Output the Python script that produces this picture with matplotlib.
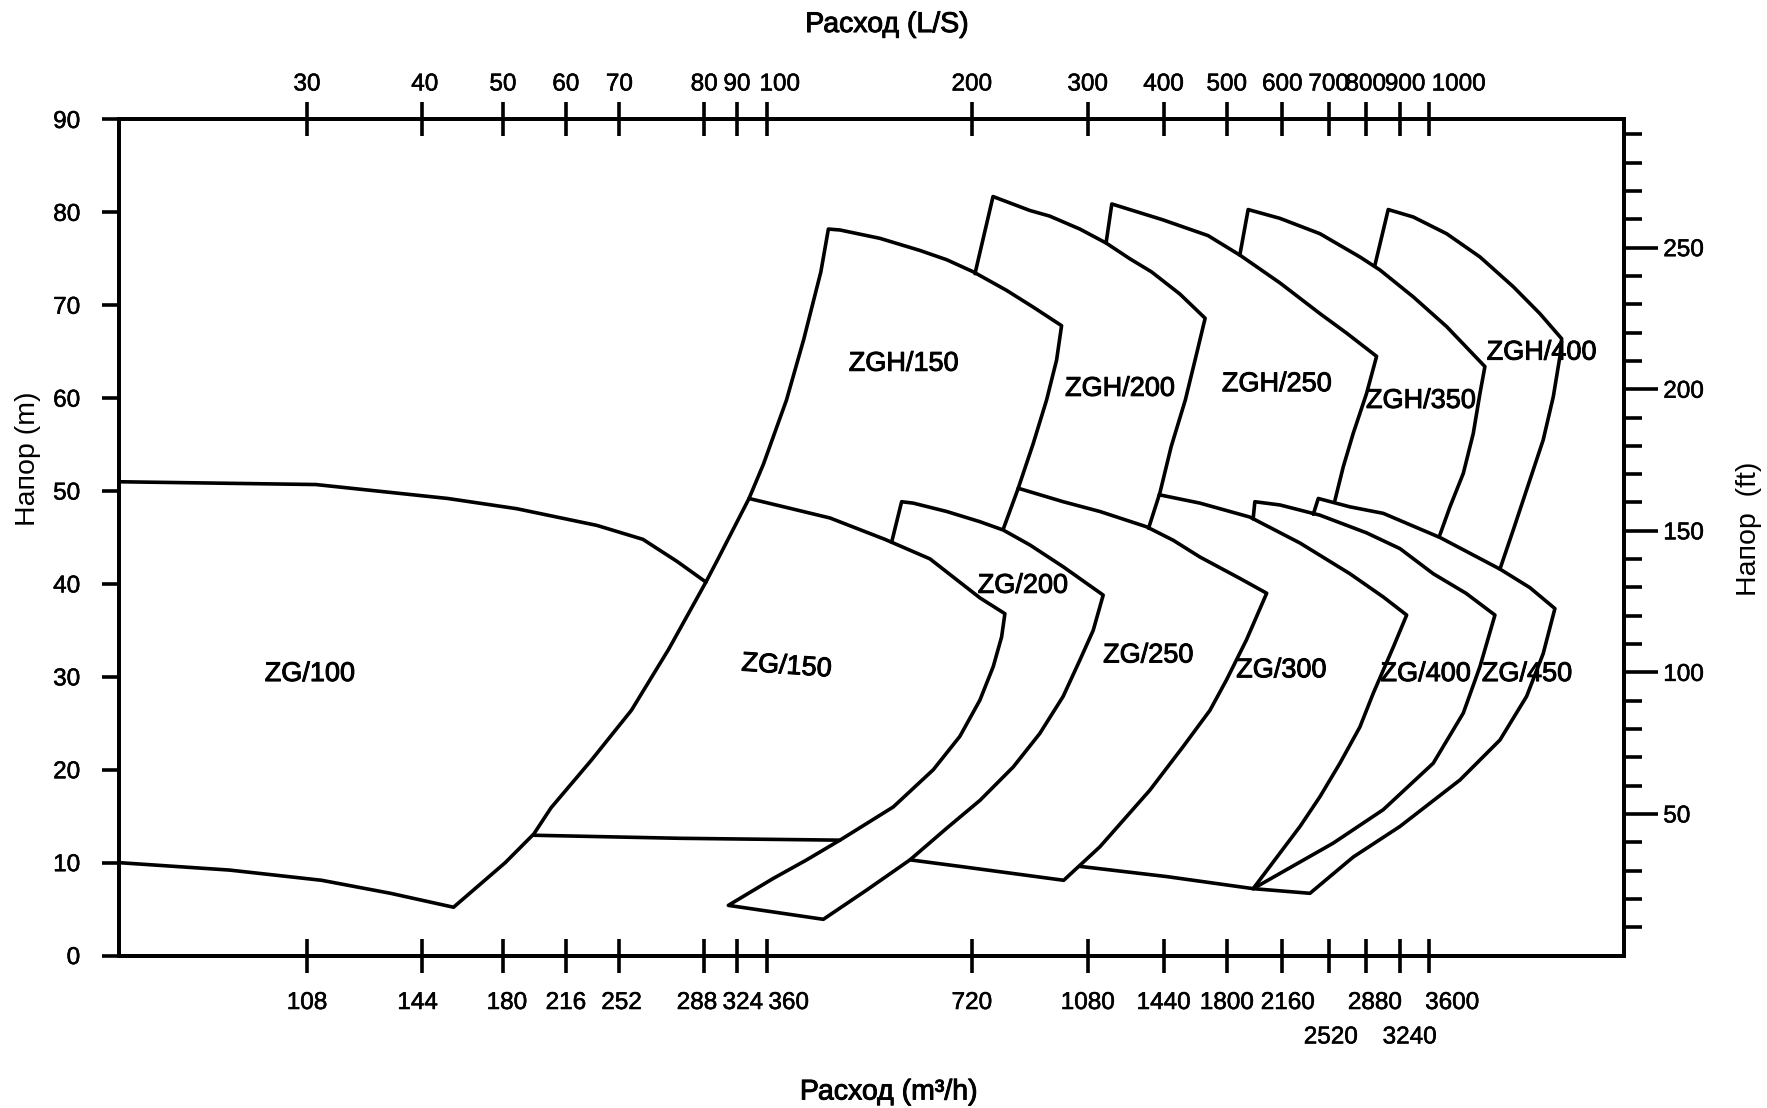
import numpy as np
import matplotlib
matplotlib.use("Agg")
import matplotlib.pyplot as plt
import matplotlib.patheffects as pe
from matplotlib.ticker import NullLocator
from matplotlib.transforms import ScaledTranslation

plt.rcParams['font.family'] = ['Liberation Sans', 'DejaVu Sans']

# Printed flow scale of the original sheet (log paper, unevenly drawn)
SCALE_Q = [67.5, 108, 144, 180, 216, 252, 288, 324, 360, 720, 1080, 1440,
           1800, 2160, 2520, 2880, 3240, 3600, 7300]
SCALE_FRAC = [0.0, 0.1251, 0.2017, 0.2553, 0.2971, 0.3327, 0.3890, 0.4108,
              0.4306, 0.5669, 0.6439, 0.6943, 0.7363, 0.7732, 0.8040, 0.8286,
              0.8516, 0.8704, 1.0]

# Axis ticks
flow_m3h_ticks = [108, 144, 180, 216, 252, 288, 324, 360, 720, 1080, 1440,
                  1800, 2160, 2520, 2880, 3240, 3600]
flow_ls_ticks = [30, 40, 50, 60, 70, 80, 90, 100, 200, 300, 400, 500, 600,
                 700, 800, 900, 1000]
head_m_ticks = [0, 10, 20, 30, 40, 50, 60, 70, 80, 90]
head_ft_major = [50, 100, 150, 200, 250]
head_ft_minor = [v for v in range(10, 300, 10) if v % 50]

# Outlines of the pump ranges: flow (m3/h) and head (m)
zg100_q = [67.5, 110.4, 154.5, 187.3, 236.2, 261.5, 276.1, 289.8, 272.4,
           256.8, 232.3, 206.9, 196.9, 181.2, 157.0, 133.0, 112.0, 89.0, 67.5]
zg100_h = [51.0, 50.7, 49.2, 48.1, 46.3, 44.8, 42.4, 40.2, 33.0,
           26.4, 21.0, 15.9, 13.1, 10.0, 5.2, 6.7, 8.1, 9.2, 10.0]

zg150_q = [196.5, 277.2, 461.0, 552.1, 631.9, 691.4, 740.5, 775.8, 798.9, 808.1,
           740.5, 624.8, 536.6, 445.7, 376.4, 338.1]
zg150_h = [12.95, 12.62, 12.42, 16.0, 20.0, 23.6, 27.5, 31.1, 34.3, 36.8,
           38.5, 42.7, 44.8, 47.1, 48.4, 49.2]

zgh150_q = [289.8, 302.2, 338.1, 355.8, 384.8, 407.8, 432.2, 443.3, 461.0, 527.7,
            603.9, 661.1, 723.3, 812.9, 892.2, 985.4, 968.3, 935.0, 892.2, 846.7,
            803.5]
zgh150_h = [40.2, 42.6, 49.2, 52.9, 59.8, 66.3, 73.6, 78.2, 78.1, 77.2,
            75.9, 74.9, 73.6, 71.6, 69.8, 67.8, 64.1, 59.8, 55.1, 50.3,
            45.9]

zg200_q = [461.0, 412.0, 368.0, 314.1, 435.8, 504.6, 584.1, 661.1, 740.5, 832.1,
           913.0, 990.9, 1050.5, 1102.4, 1145.0, 990.9, 881.9, 803.5, 740.5, 661.1,
           590.4, 567.8, 549.0]
zg200_h = [12.42, 10.3, 8.3, 5.4, 3.9, 7.05, 10.3, 13.7, 16.7, 20.3,
           23.9, 27.9, 31.8, 35.0, 38.8, 41.85, 44.2, 45.8, 46.7, 47.8,
           48.7, 48.85, 44.5]

zgh200_q = [727.8, 775.2, 881.9, 944.9, 1050.5, 1157.6, 1267.0, 1374.9, 1525.5,
            1667.2, 1618.0, 1554.6, 1479.1, 1419.7, 1360.1]
zgh200_h = [73.4, 81.7, 80.2, 79.6, 78.2, 76.7, 75.0, 73.6, 71.2,
            68.6, 64.8, 59.8, 54.8, 49.8, 46.0]

zg250_q = [846.7, 990.9, 1130.6, 1349.9, 1489.7, 1636.8, 1878.4, 2051.5, 1920.3,
           1798.7, 1696.0, 1543.0, 1366.7, 1130.6, 992.7, 699.2, 584.1]
zg250_h = [50.3, 48.85, 47.8, 46.15, 44.7, 42.9, 40.6, 39.0, 34.0,
           29.7, 26.4, 22.5, 17.8, 11.7, 8.1, 9.55, 10.3]

zgh250_q = [1157.6, 1183.0, 1434.7, 1684.0, 1878.4, 2143.3, 2447.6, 2687.8, 2988.2,
            2887.9, 2752.5, 2655.4, 2577.1]
zgh250_h = [76.7, 80.9, 79.2, 77.5, 75.4, 72.4, 69.1, 67.0, 64.5,
            60.5, 56.2, 52.6, 49.0]

zg300_q = [1416.0, 1636.8, 1941.2, 2290.8, 2719.8, 3056.7, 3317.0, 3163.0, 2953.2,
           2819.8, 2623.8, 2447.6, 2290.8, 1962.4, 1455.4, 1050.0]
zg300_h = [49.6, 48.7, 47.2, 44.4, 41.1, 38.6, 36.65, 33.2, 28.2,
           24.6, 20.7, 17.1, 13.9, 7.2, 8.5, 9.6]

zgh350_q = [1878.4, 1930.5, 2143.3, 2447.6, 2819.8, 3022.1, 3399.6, 3842.5, 4414.0,
            4335.6, 4232.0, 4081.6, 3889.1, 3750.7]
zgh350_h = [75.4, 80.3, 79.35, 77.7, 75.2, 73.8, 70.9, 67.7, 63.4,
            60.5, 56.2, 51.9, 48.3, 45.3]

zgh400_q = [2971.0, 3108.9, 3399.6, 3842.5, 4335.6, 4891.3, 5387.6, 5830.0, 5794.0,
            5655.6, 5452.5, 5196.4, 4891.3, 4661.5]
zgh400_h = [74.3, 80.3, 79.5, 77.7, 75.2, 72.0, 69.1, 66.4, 64.5,
            60.15, 55.5, 51.2, 45.8, 41.6]

zg400_q = [1962.4, 1973.4, 2143.3, 2447.6, 2887.9, 3236.0, 3660.3, 4120.9, 4577.6,
           4335.6, 4081.6, 3660.3, 3056.7, 2561.2, 1962.4]
zg400_h = [47.0, 48.85, 48.5, 47.4, 45.5, 43.8, 41.1, 39.0, 36.65,
           31.1, 26.1, 20.7, 15.7, 12.1, 7.2]

zg450_q = [2393.8, 2434.1, 2719.8, 3056.7, 3750.7, 4661.5, 5196.4, 5689.0, 5452.5,
           5134.6, 4661.5, 4033.0, 3236.0, 2752.5, 2367.6, 1962.4]
zg450_h = [47.5, 49.2, 48.3, 47.6, 45.0, 41.6, 39.6, 37.35, 32.5,
           27.9, 23.2, 18.9, 13.9, 10.6, 6.7, 7.2]

# Range labels
model_names = ["ZG/100", "ZG/150", "ZGH/150", "ZG/200", "ZGH/200", "ZG/250",
               "ZGH/250", "ZG/300", "ZGH/350", "ZGH/400", "ZG/400", "ZG/450"]
model_q = [108.8, 385.0, 572.0, 860.7, 1220.6, 1358.6,
           2121.5, 2153.4, 3499.5, 5421.0, 3559.7, 5141.7]
model_h = [30.3, 31.1, 63.7, 39.8, 61.0, 32.3,
           61.5, 30.7, 59.7, 64.9, 30.3, 30.3]
model_rot = [0, -4, 0, 0, 0, 0, 0, 0, 0, 0, 0, 0]

# tick label nudges (points), as printed on the sheet
bottom_label_shift = {144: (-3.4, 0), 180: (2.8, 0), 252: (1.5, 0), 288: (-5.3, 0),
                      324: (4.2, 0), 360: (15.8, 0), 2160: (3.9, 0), 2520: (1.5, -24.8),
                      2880: (6.5, 0), 3240: (6.7, -24.8), 3600: (17.0, 0)}
top_label_shift = {40: (1.8, 0), 100: (9.4, 0), 900: (3.5, 0), 1000: (21.7, 0)}

_lq = np.log10(SCALE_Q)
_fr = np.array(SCALE_FRAC)
_s0 = (_fr[1] - _fr[0]) / (_lq[1] - _lq[0])
_s1 = (_fr[-1] - _fr[-2]) / (_lq[-1] - _lq[-2])


def q_to_frac(q):
    lq = np.log10(np.clip(np.asarray(q, dtype=float), 1e-9, None))
    t = np.interp(lq, _lq, _fr)
    t = np.where(lq < _lq[0], _fr[0] + (lq - _lq[0]) * _s0, t)
    t = np.where(lq > _lq[-1], _fr[-1] + (lq - _lq[-1]) * _s1, t)
    return t


def frac_to_q(t):
    t = np.asarray(t, dtype=float)
    lq = np.interp(t, _fr, _lq)
    lq = np.where(t < _fr[0], _lq[0] + (t - _fr[0]) / _s0, lq)
    lq = np.where(t > _fr[-1], _lq[-1] + (t - _fr[-1]) / _s1, lq)
    return 10 ** lq


LW = 2.6
TICK_FS = 17.5
# slightly heavier glyphs, like the scanned sheet
HEAVY = [pe.withStroke(linewidth=0.7, foreground='black')]

fig = plt.figure(figsize=(17.67, 11.08), dpi=100)
ax = fig.add_axes([0.0672, 0.1376, 0.8517, 0.7546])

ax.set_xscale('function', functions=(q_to_frac, frac_to_q))
ax.set_xlim(SCALE_Q[0], SCALE_Q[-1])
ax.set_ylim(0, 90)

outlines = [(zg100_q, zg100_h), (zg150_q, zg150_h), (zgh150_q, zgh150_h),
            (zg200_q, zg200_h), (zgh200_q, zgh200_h), (zg250_q, zg250_h),
            (zgh250_q, zgh250_h), (zg300_q, zg300_h), (zgh350_q, zgh350_h),
            (zgh400_q, zgh400_h), (zg400_q, zg400_h), (zg450_q, zg450_h)]
for q, h in outlines:
    ax.plot(q, h, color='black', lw=LW, solid_joinstyle='round',
            solid_capstyle='round')

for name, q, h, rot in zip(model_names, model_q, model_h, model_rot):
    ax.text(q, h, name, ha='center', va='center', fontsize=19.5,
            rotation=rot, rotation_mode='anchor', path_effects=HEAVY)

# bottom axis: m3/h
ax.set_xticks(flow_m3h_ticks, labels=[str(v) for v in flow_m3h_ticks])
ax.xaxis.set_minor_locator(NullLocator())
ax.tick_params(axis='x', which='major', direction='inout', length=24.5,
               width=LW, labelsize=TICK_FS, pad=14)
ax.set_yticks(head_m_ticks, labels=[str(v) for v in head_m_ticks])
ax.tick_params(axis='y', which='major', direction='out', length=12.2,
               width=LW, labelsize=TICK_FS, pad=15.5)

# top axis: L/S
ax_ls = ax.twiny()
ax_ls.set_xscale('function', functions=(lambda l: q_to_frac(np.asarray(l, dtype=float) * 3.6),
                                        lambda t: frac_to_q(t) / 3.6))
ax_ls.set_xlim(SCALE_Q[0] / 3.6, SCALE_Q[-1] / 3.6)
ax_ls.set_xticks(flow_ls_ticks, labels=[str(v) for v in flow_ls_ticks])
ax_ls.xaxis.set_minor_locator(NullLocator())
ax_ls.tick_params(axis='x', which='major', direction='inout', length=24.5,
                  width=LW, labelsize=TICK_FS, pad=5)

# right axis: ft
ax_ft = ax.twinx()
ax_ft.set_ylim(0, 90 * 3.28084)
ax_ft.set_yticks(head_ft_major, labels=[str(v) for v in head_ft_major])
ax_ft.set_yticks(head_ft_minor, minor=True)
ax_ft.tick_params(axis='y', which='major', direction='out', length=24.5,
                  width=LW, labelsize=TICK_FS, pad=4)
ax_ft.tick_params(axis='y', which='minor', direction='out', length=13,
                  width=LW)

for a in (ax, ax_ls, ax_ft):
    for sp in a.spines.values():
        sp.set_linewidth(LW)

for tick, loc in zip(ax.xaxis.get_major_ticks(), flow_m3h_ticks):
    if loc in bottom_label_shift:
        dx, dy = bottom_label_shift[loc]
        tick.label1.set_transform(tick.label1.get_transform() +
                                  ScaledTranslation(dx / 72, dy / 72, fig.dpi_scale_trans))
for tick, loc in zip(ax_ls.xaxis.get_major_ticks(), flow_ls_ticks):
    if loc in top_label_shift:
        dx, dy = top_label_shift[loc]
        tick.label2.set_transform(tick.label2.get_transform() +
                                  ScaledTranslation(dx / 72, dy / 72, fig.dpi_scale_trans))

for lab in (ax.get_xticklabels() + ax.get_yticklabels() +
            ax_ls.get_xticklabels() + ax_ft.get_yticklabels()):
    lab.set_path_effects([pe.withStroke(linewidth=0.4, foreground='black')])

fig.text(0.502, 0.9774, "Расход (L/S)", ha='center', va='center', fontsize=20.5,
         path_effects=HEAVY)
fig.text(0.503, 0.0140, "Расход (m³/h)", ha='center', va='center', fontsize=20.5,
         path_effects=HEAVY)
fig.text(0.0160, 0.5857, "Напор (m)", ha='center', va='center', fontsize=20.5,
         rotation=90)
fig.text(0.9898, 0.5230, "Напор  (ft)", ha='center', va='center', fontsize=20.5,
         rotation=90)

fig.savefig("out.png", dpi=100, facecolor='white')
